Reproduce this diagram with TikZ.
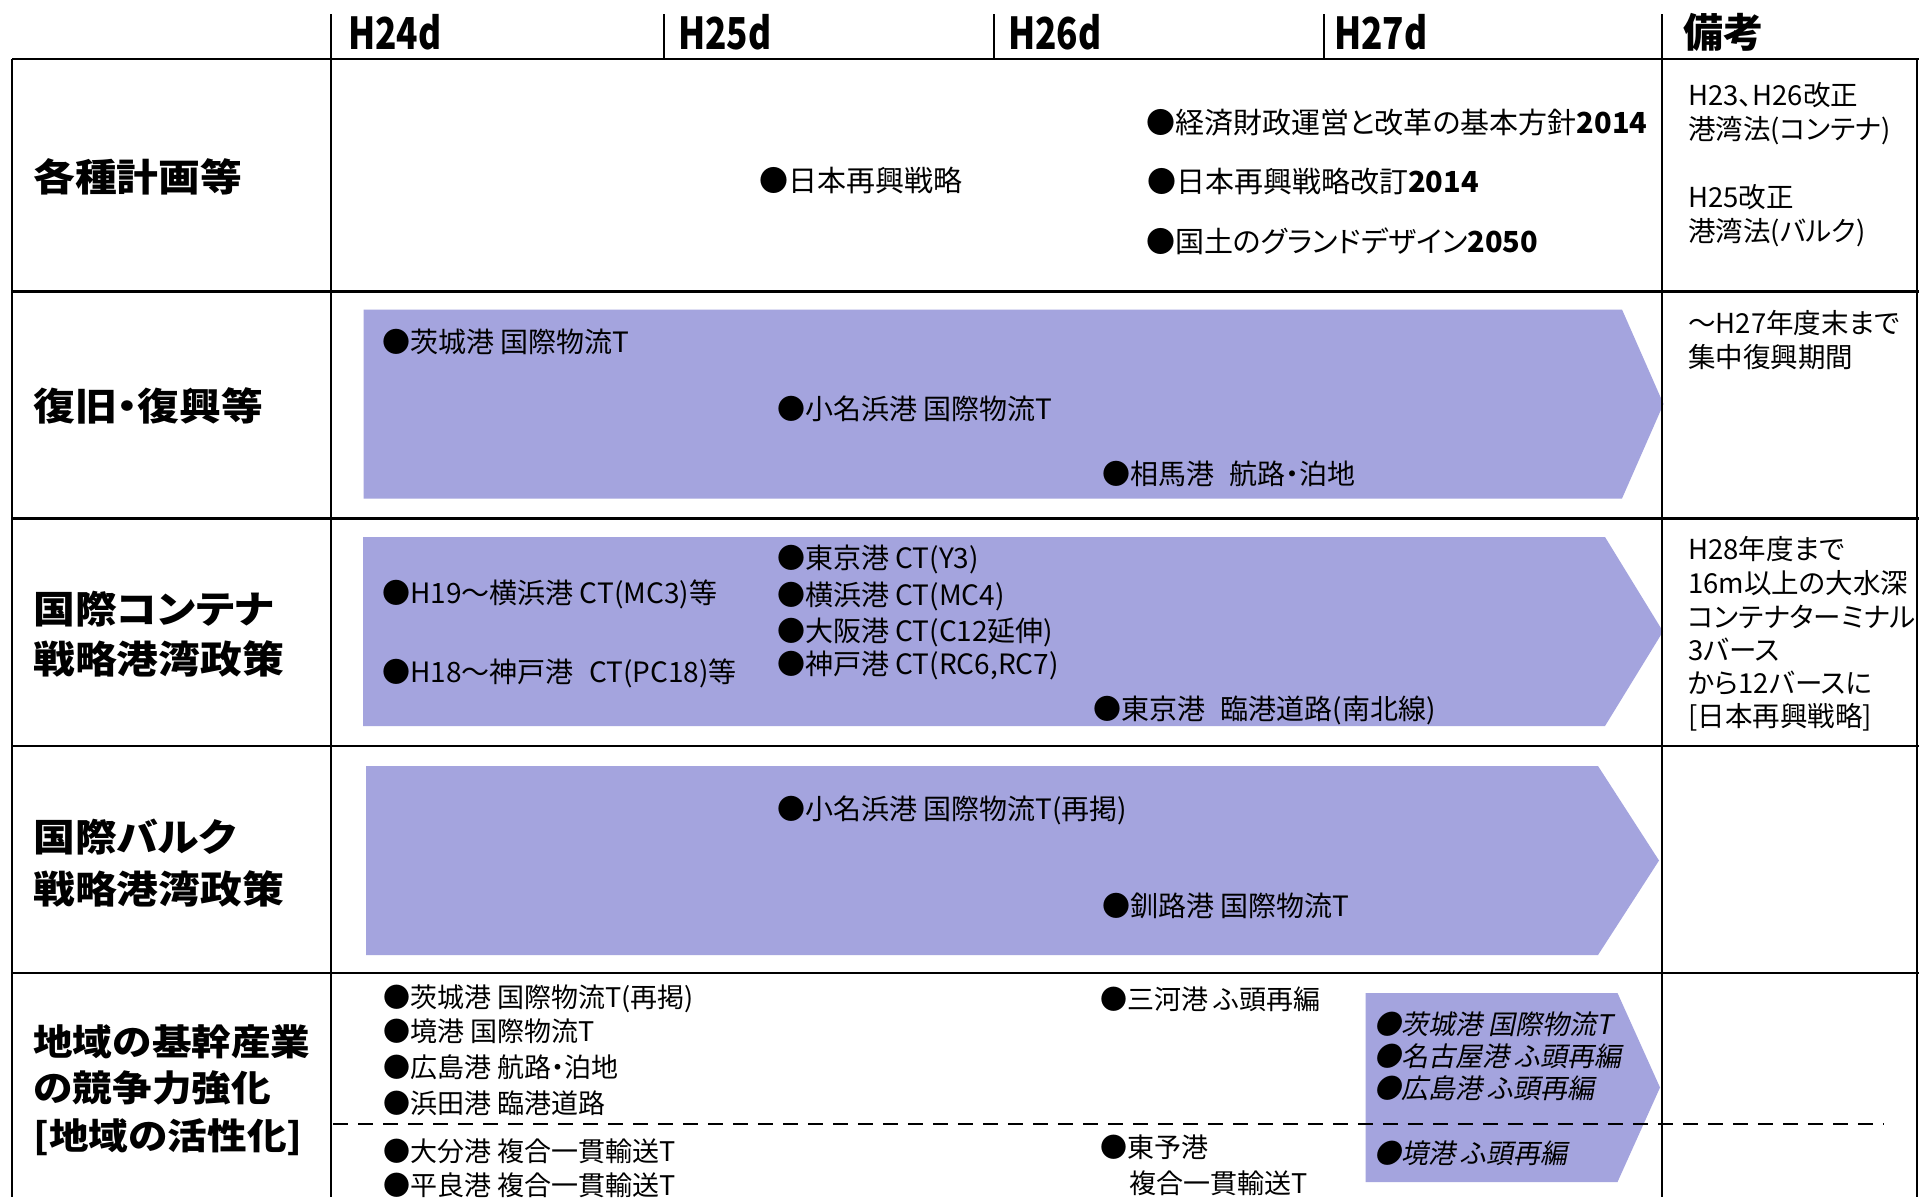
\documentclass[tikz,border=0pt]{standalone}
\usepackage{fontspec}
\newfontfamily\bodyfont{Noto Sans CJK JP}[RawFeature=+palt]
\newfontfamily\labfont{Noto Sans CJK JP}[RawFeature=+palt,FakeStretch=1.1]
\newfontfamily\labfontB{Noto Sans CJK JP}[FakeStretch=1.1]
\newfontfamily\headfont{Noto Sans CJK JP}[FakeStretch=0.8]
\newfontfamily\itfont{Noto Sans CJK JP}[RawFeature=+palt,FakeSlant=0.2]
\definecolor{lav}{RGB}{164,164,222}
\newcommand{\wsp}{\hspace{0.55em}}
\tikzset{
  gridline/.style={line width=2.6pt, black},
  dashline/.style={line width=2pt, black, dash pattern=on 15pt off 10pt},
  band/.style={fill=lav},
  hd/.style={anchor=base west, inner sep=0pt, font=\headfont\bfseries\fontsize{44}{44}\selectfont},
  hdj/.style={anchor=base west, inner sep=0pt, font=\bodyfont\bfseries\fontsize{40}{40}\selectfont},
  lab/.style={anchor=base west, inner sep=0pt, font=\labfont\bfseries\fontsize{38}{38}\selectfont},
  labB/.style={anchor=base west, inner sep=0pt, font=\labfontB\bfseries\fontsize{36}{36}\selectfont},
  tA/.style={anchor=base west, inner sep=0pt, font=\bodyfont\fontsize{29}{29}\selectfont},
  tB/.style={anchor=base west, inner sep=0pt, font=\bodyfont\fontsize{28}{28}\selectfont},
  tC/.style={anchor=base west, inner sep=0pt, font=\bodyfont\fontsize{27}{27}\selectfont},
  tI/.style={anchor=base west, inner sep=0pt, font=\itfont\fontsize{27}{27}\selectfont},
  rm/.style={anchor=base west, inner sep=0pt, font=\bodyfont\fontsize{27.5}{27.5}\selectfont},
}
\begin{document}
\begin{tikzpicture}[x=1pt,y=-1pt]
\useasboundingbox (0,0) rectangle (1919,1197);
\fill[white] (0,0) rectangle (1919,1197);
% bands
\fill[band] (363.5,309.5) -- (1622,309.5) -- (1663.5,404) -- (1622,498.5) -- (363.5,498.5) -- cycle;
\fill[band] (363,537) -- (1605,537) -- (1663,631.5) -- (1605,726) -- (363,726) -- cycle;
\fill[band] (366,766) -- (1598,766) -- (1659,860.5) -- (1598,955) -- (366,955) -- cycle;
\fill[band] (1365.5,993) -- (1617.5,993) -- (1660,1087.5) -- (1617.5,1182) -- (1365.5,1182) -- cycle;
% grid
\draw[gridline] (331,14) -- (331,1197);
\draw[gridline] (664,14) -- (664,59);
\draw[gridline] (994,14) -- (994,59);
\draw[gridline] (1324,14) -- (1324,59);
\draw[gridline] (1662,14) -- (1662,1197);
\draw[gridline] (12,59) -- (12,1197);
\draw[gridline] (1917,59) -- (1917,1197);
\draw[gridline] (12,59) -- (1919,59);
\draw[gridline] (12,291.5) -- (1919,291.5);
\draw[gridline] (12,518.5) -- (1919,518.5);
\draw[gridline] (12,746) -- (1919,746);
\draw[gridline] (12,973) -- (1919,973);
\draw[dashline] (333,1124) -- (1884,1124);
% header
\node[hd] (h24) at (348,49) {H24d};
\node[hd] (h25) at (678,49) {H25d};
\node[hd] (h26) at (1008,49) {H26d};
\node[hd] (h27) at (1334,49) {H27d};
\node[hdj] (hbk) at (1683,47) {備考};
% row labels
\node[lab] (L1) at (33,191.4) {各種計画等};
\node[lab] (L2) at (33,420.4) {復旧・復興等};
\node[lab] (L3a) at (33,623.4) {国際コンテナ};
\node[lab] (L3b) at (33,673.4) {戦略港湾政策};
\node[lab] (L4a) at (33,851.4) {国際バルク};
\node[lab] (L4b) at (33,903.4) {戦略港湾政策};
\node[labB] (L5a) at (33,1055) {地域の基幹産業};
\node[labB] (L5b) at (33,1101) {の競争力強化};
\node[labB] (L5c) at (33,1149) {[地域の活性化]};
% row 1
\node[tA] (t1a) at (759,191) {●日本再興戦略};
\node[tA] (t1b) at (1146,133) {●経済財政運営と改革の基本方針{\bfseries 2014}};
\node[tA] (t1c) at (1147,192) {●日本再興戦略改訂{\bfseries 2014}};
\node[tA] (t1d) at (1146,252) {●国土のグランドデザイン{\bfseries 2050}};
\node[rm] (m1a) at (1688,105.5) {H23、H26改正};
\node[rm] (m1b) at (1688,139.5) {港湾法(コンテナ)};
\node[rm] (m1c) at (1688,207.5) {H25改正};
\node[rm] (m1d) at (1688,241.5) {港湾法(バルク)};
% row 2
\node[tB] (t2a) at (382,352.6) {●茨城港 国際物流T};
\node[tB] (t2b) at (777,419.6) {●小名浜港 国際物流T};
\node[tB] (t2c) at (1102,484.6) {●相馬港\wsp 航路・泊地};
\node[rm] (m2a) at (1688,333.5) {～H27年度末まで};
\node[rm] (m2b) at (1688,367.5) {集中復興期間};
% row 3
\node[tB] (t3a) at (382,603.6) {●H19～横浜港 CT(MC3)等};
\node[tB] (t3b) at (382,682.6) {●H18～神戸港\wsp CT(PC18)等};
\node[tB] (t3c) at (777,568.6) {●東京港 CT(Y3)};
\node[tB] (t3d) at (777,605.6) {●横浜港 CT(MC4)};
\node[tB] (t3e) at (777,641.6) {●大阪港 CT(C12延伸)};
\node[tB] (t3f) at (777,674.6) {●神戸港 CT(RC6,RC7)};
\node[tB] (t3g) at (1093,719.6) {●東京港\wsp 臨港道路(南北線)};
\node[rm] (m3a) at (1688,559.5) {H28年度まで};
\node[rm] (m3b) at (1688,593.5) {16m以上の大水深};
\node[rm] (m3c) at (1688,627.5) {コンテナターミナル};
\node[rm] (m3d) at (1688,660.5) {3バース};
\node[rm] (m3e) at (1688,693.5) {から12バースに};
\node[rm] (m3f) at (1688,726.5) {[日本再興戦略]};
% row 4
\node[tB] (t4a) at (777,819.6) {●小名浜港 国際物流T(再掲)};
\node[tB] (t4b) at (1102,916.6) {●釧路港 国際物流T};
% row 5
\node[tC] (t5a) at (383,1007.3) {●茨城港 国際物流T(再掲)};
\node[tC] (t5b) at (383,1041.3) {●境港 国際物流T};
\node[tC] (t5c) at (383,1077.3) {●広島港 航路・泊地};
\node[tC] (t5d) at (383,1113.3) {●浜田港 臨港道路};
\node[tC] (t5e) at (383,1161.3) {●大分港 複合一貫輸送T};
\node[tC] (t5f) at (383,1195.3) {●平良港 複合一貫輸送T};
\node[tC] (t5g) at (1100,1009.3) {●三河港 ふ頭再編};
\node[tC] (t5h) at (1100,1157.3) {●東予港};
\node[tC] (t5i) at (1129,1193.3) {複合一貫輸送T};
\node[tI] (t5j) at (1374,1034.3) {●茨城港 国際物流T};
\node[tI] (t5k) at (1374,1066.3) {●名古屋港 ふ頭再編};
\node[tI] (t5l) at (1374,1098.3) {●広島港 ふ頭再編};
\node[tI] (t5m) at (1374,1163.3) {●境港 ふ頭再編};
\end{tikzpicture}
\end{document}
